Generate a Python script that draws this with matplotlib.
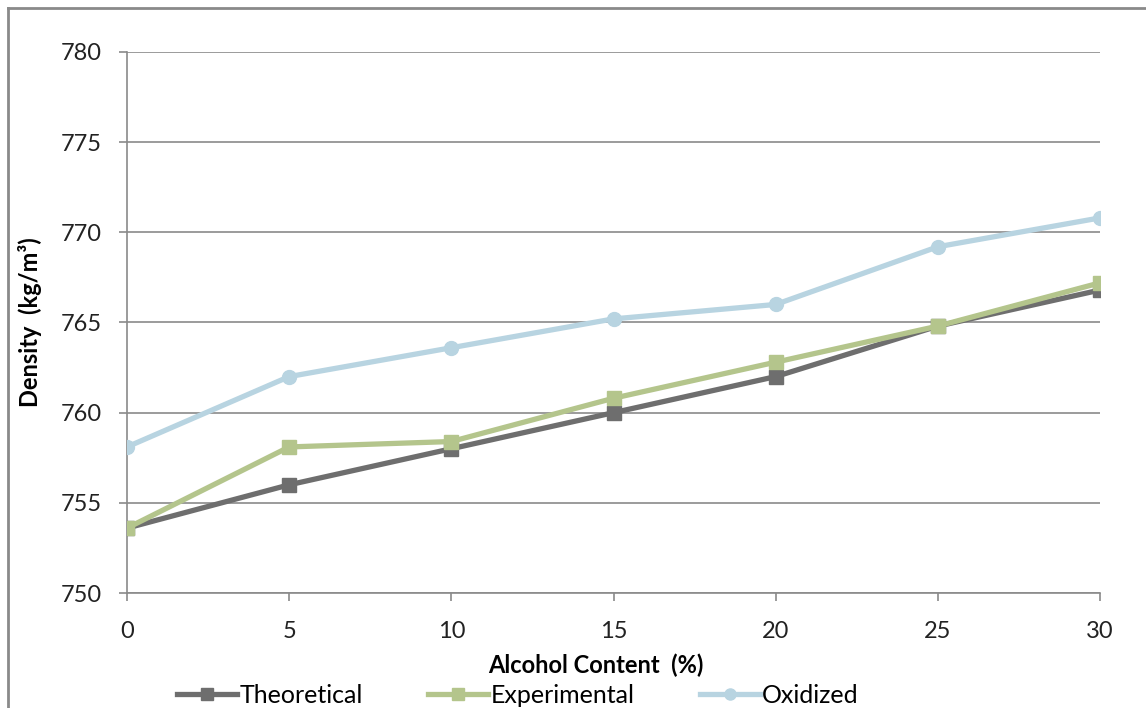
import matplotlib.pyplot as plt
from matplotlib.lines import Line2D

alcohol = [0, 5, 10, 15, 20, 25, 30]
theoretical = [753.6, 756.0, 758.0, 760.0, 762.0, 764.8, 766.8]
experimental = [753.6, 758.1, 758.4, 760.8, 762.8, 764.8, 767.2]
oxidized = [758.1, 762.0, 763.6, 765.2, 766.0, 769.2, 770.8]

plt.rcParams['font.family'] = ['Lato', 'DejaVu Sans']

fig = plt.figure(figsize=(11.46, 7.08), dpi=100)
ax = fig.add_axes([0.1108, 0.1624, 0.8491, 0.7642])

ax.plot(alcohol, theoretical, color='#6e6e6e', lw=3.8, marker='s', ms=10,
        label='Theoretical', zorder=3)
ax.plot(alcohol, experimental, color='#b4c58c', lw=3.8, marker='s', ms=10,
        label='Experimental', zorder=4)
ax.plot(alcohol, oxidized, color='#b8d4e1', lw=3.8, marker='o', ms=10,
        label='Oxidized', zorder=5)

ax.set_xlim(0, 30)
ax.set_ylim(750, 780)
ax.set_xticks(alcohol)
ax.set_yticks(range(750, 781, 5))
ax.grid(axis='y', color='#8a8a8a', lw=1.2)
ax.set_axisbelow(True)
for s in ['top', 'right']:
    ax.spines[s].set_visible(False)
for s in ['left', 'bottom']:
    ax.spines[s].set_color('#8a8a8a')
    ax.spines[s].set_linewidth(1.2)
ax.tick_params(axis='both', length=6, width=1.2, color='#8a8a8a',
               labelsize=17, labelcolor='#222222')
ax.tick_params(axis='y', pad=12)
ax.tick_params(axis='x', pad=14)

ax.set_ylabel('Density  (kg/m³)', fontsize=17, fontweight='bold')
ax.yaxis.set_label_coords(-0.087, 0.5)
ax.set_xlabel('Alcohol Content  (%)', fontsize=17, fontweight='bold')
ax.xaxis.set_label_coords(0.482, -0.112)

fig.legend(loc='center', bbox_to_anchor=(0.452, 0.018), ncol=3, frameon=False,
           fontsize=18, handlelength=2.4, handletextpad=0.1, columnspacing=2.6,
           markerscale=0.8)

# outer chart frame
fig.add_artist(Line2D([0.007, 0.007], [0, 0.989], color='#8a8a8a', lw=2,
                      transform=fig.transFigure))
fig.add_artist(Line2D([0.007, 1.0], [0.989, 0.989], color='#8a8a8a', lw=2,
                      transform=fig.transFigure))

fig.savefig('out.png', dpi=100)
